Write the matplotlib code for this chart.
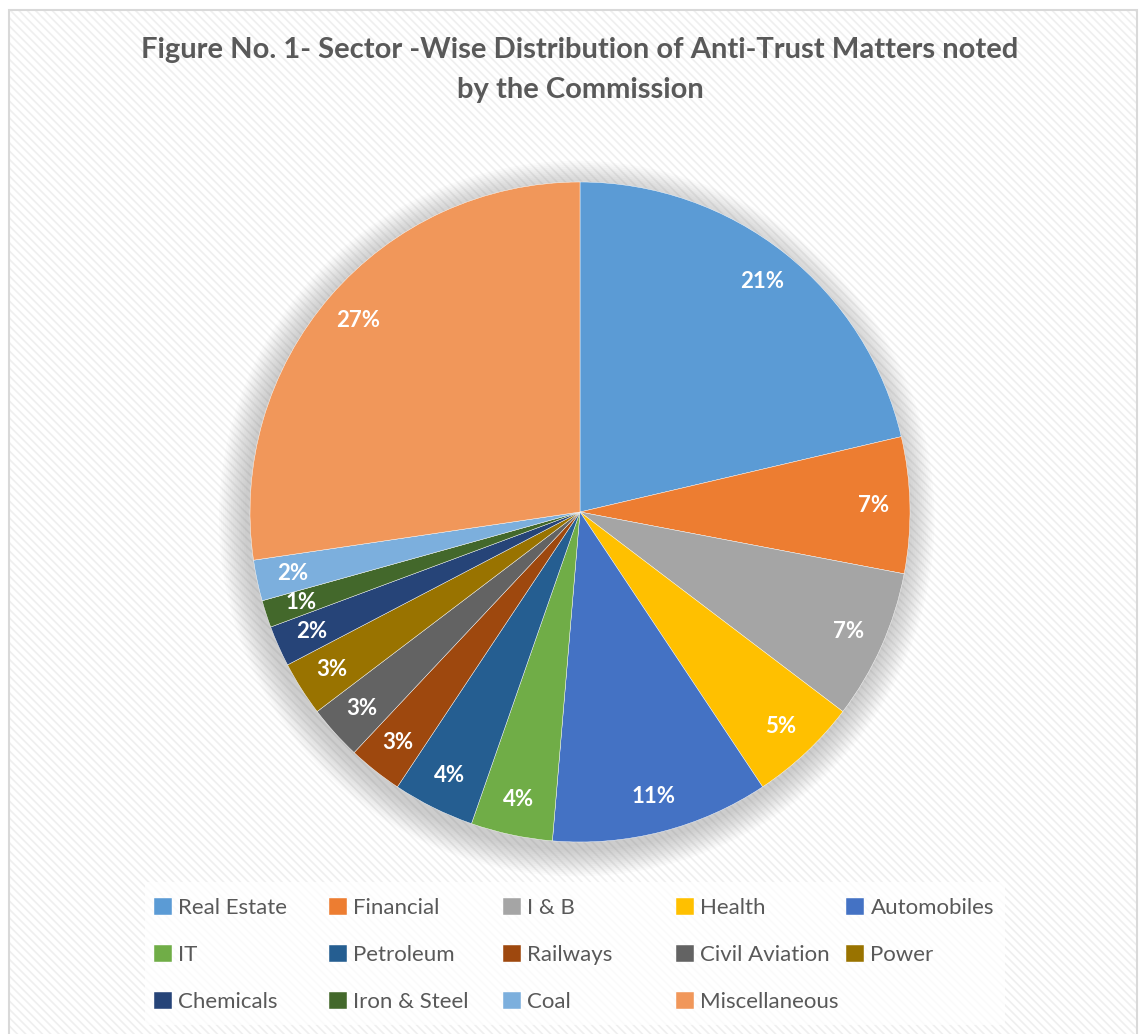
import matplotlib
matplotlib.use("Agg")
import matplotlib.pyplot as plt
from matplotlib.patches import Rectangle, Circle

sectors = ["Real Estate", "Financial", "I & B", "Health", "Automobiles",
           "IT", "Petroleum", "Railways", "Civil Aviation", "Power",
           "Chemicals", "Iron & Steel", "Coal", "Miscellaneous"]
matters = [32, 10, 11, 8, 16, 6, 6, 4, 4, 4, 3, 2, 3, 41]
colors = ["#5B9BD5", "#ED7D31", "#A5A5A5", "#FFC000", "#4472C4",
          "#70AD47", "#255E91", "#9E480E", "#636363", "#997300",
          "#264478", "#43682B", "#7CAFDD", "#F1975A"]

W, H = 1139, 1034
fig = plt.figure(figsize=(W / 100, H / 100), dpi=100)
fig.patch.set_facecolor("white")

# chart area with light diagonal stripes
plt.rcParams["hatch.linewidth"] = 1.2
bg = Rectangle((9 / W, 0), (1137 - 9) / W, (H - 10) / H, transform=fig.transFigure,
               facecolor="white", edgecolor="#efefef", hatch="\\\\\\\\", lw=0, zorder=-3)
fig.add_artist(bg)
border = Rectangle((9 / W, -0.01), (1137 - 9) / W, (H - 10) / H + 0.01, transform=fig.transFigure,
                   facecolor="none", edgecolor="#d9d9d9", lw=1.5, zorder=-2)
fig.add_artist(border)

fig.text(580 / W, 1 - 50 / H, "Figure No. 1- Sector -Wise Distribution of Anti-Trust Matters noted",
         ha="center", va="center", fontsize=21, fontweight="bold", color="#595959", family="Lato")
fig.text(580 / W, 1 - 90 / H, "by the Commission",
         ha="center", va="center", fontsize=21, fontweight="bold", color="#595959", family="Lato")

ax = fig.add_axes([250 / W, (H - 842) / H, 660 / W, 660 / H])
ax.set_aspect("equal")
ax.axis("off")

# soft shadow behind the pie
for i in range(14):
    r = 1.0 + 0.006 * (i + 1)
    ax.add_patch(Circle((-0.01, -0.02), r, facecolor="#808080", alpha=0.03,
                        lw=0, zorder=0, clip_on=False))

wedges, texts, autotexts = ax.pie(matters, colors=colors, startangle=90, counterclock=False,
                                  autopct="%.0f%%", pctdistance=0.89,
                                  wedgeprops=dict(edgecolor="white", linewidth=0.3),
                                  textprops=dict(color="white", fontsize=16, fontweight="bold",
                                                 family="Lato"))
for w in wedges:
    w.set_zorder(2)
for t in autotexts:
    t.set_zorder(3)
ax.set_xlim(-1, 1)
ax.set_ylim(-1, 1)

# legend box
lbox = Rectangle((145 / W, 1 - 1025 / H), (1005 - 145) / W, (1025 - 882) / H,
                 transform=fig.transFigure, facecolor="white", alpha=0.75, lw=0, zorder=4)
fig.add_artist(lbox)

# one legend per column so the columns are evenly spaced like Excel's
col_x = [154, 329, 503, 676, 846]
for c in range(5):
    idx = list(range(c, len(sectors), 5))
    leg = fig.legend([wedges[i] for i in idx], [sectors[i] for i in idx],
                     loc="upper left", bbox_to_anchor=(col_x[c] / W, 1 - 898 / H),
                     frameon=False, borderpad=0, borderaxespad=0,
                     handlelength=0.8, handleheight=0.8, handletextpad=0.3,
                     labelspacing=1.2, prop=dict(family="Lato", size=16))
    leg.set_zorder(5)
    for t in leg.get_texts():
        t.set_color("#595959")

fig.savefig("out.png", dpi=100)
